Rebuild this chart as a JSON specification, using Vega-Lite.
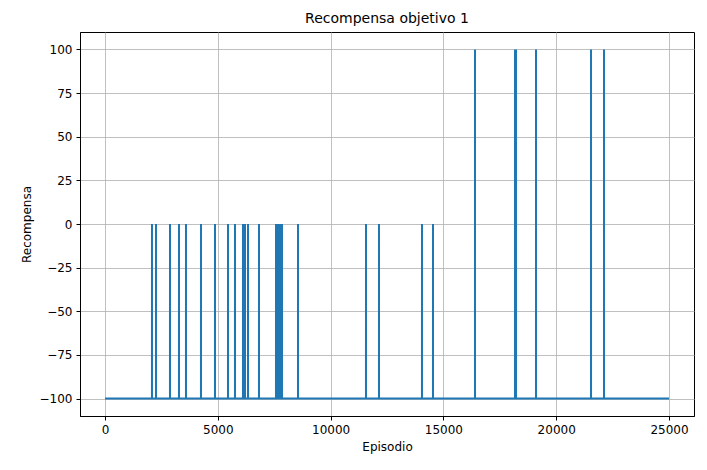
{
  "$schema": "https://vega.github.io/schema/vega-lite/v6.json",
  "width": 614,
  "height": 384,
  "autosize": "none",
  "padding": {"left": 80, "top": 32, "right": 13, "bottom": 54},
  "title": {"text": "Recompensa objetivo 1", "font": "DejaVu Sans", "fontSize": 14, "fontWeight": "normal", "color": "black", "offset": 6},
  "data": {"values": [
    {"x": 0, "y": -100},
    {"x": 2082, "y": -100}, {"x": 2083, "y": 0}, {"x": 2084, "y": -100},
    {"x": 2260, "y": -100}, {"x": 2261, "y": 0}, {"x": 2262, "y": -100},
    {"x": 2880, "y": -100}, {"x": 2881, "y": 0}, {"x": 2882, "y": -100},
    {"x": 3279, "y": -100}, {"x": 3280, "y": 0}, {"x": 3281, "y": -100},
    {"x": 3589, "y": -100}, {"x": 3590, "y": 0}, {"x": 3591, "y": -100},
    {"x": 4254, "y": -100}, {"x": 4255, "y": 0}, {"x": 4256, "y": -100},
    {"x": 4875, "y": -100}, {"x": 4876, "y": 0}, {"x": 4877, "y": -100},
    {"x": 5451, "y": -100}, {"x": 5452, "y": 0}, {"x": 5453, "y": -100},
    {"x": 5761, "y": -100}, {"x": 5762, "y": 0}, {"x": 5763, "y": -100},
    {"x": 6116, "y": -100}, {"x": 6117, "y": 0}, {"x": 6118, "y": -100},
    {"x": 6205, "y": -100}, {"x": 6206, "y": 0}, {"x": 6207, "y": -100},
    {"x": 6338, "y": -100}, {"x": 6339, "y": 0}, {"x": 6340, "y": -100},
    {"x": 6825, "y": -100}, {"x": 6826, "y": 0}, {"x": 6827, "y": -100},
    {"x": 7579, "y": -100}, {"x": 7580, "y": 0}, {"x": 7581, "y": -100},
    {"x": 7667, "y": -100}, {"x": 7668, "y": 0}, {"x": 7669, "y": -100},
    {"x": 7756, "y": -100}, {"x": 7757, "y": 0}, {"x": 7758, "y": -100},
    {"x": 7845, "y": -100}, {"x": 7846, "y": 0}, {"x": 7847, "y": -100},
    {"x": 8554, "y": -100}, {"x": 8555, "y": 0}, {"x": 8556, "y": -100},
    {"x": 11568, "y": -100}, {"x": 11569, "y": 0}, {"x": 11570, "y": -100},
    {"x": 12144, "y": -100}, {"x": 12145, "y": 0}, {"x": 12146, "y": -100},
    {"x": 14050, "y": -100}, {"x": 14051, "y": 0}, {"x": 14052, "y": -100},
    {"x": 14538, "y": -100}, {"x": 14539, "y": 0}, {"x": 14540, "y": -100},
    {"x": 16400, "y": -100}, {"x": 16401, "y": 100}, {"x": 16402, "y": -100},
    {"x": 18173, "y": -100}, {"x": 18174, "y": 100}, {"x": 18175, "y": -100},
    {"x": 18217, "y": -100}, {"x": 18218, "y": 100}, {"x": 18219, "y": -100},
    {"x": 19104, "y": -100}, {"x": 19105, "y": 100}, {"x": 19106, "y": -100},
    {"x": 21542, "y": -100}, {"x": 21543, "y": 100}, {"x": 21544, "y": -100},
    {"x": 22118, "y": -100}, {"x": 22119, "y": 100}, {"x": 22120, "y": -100},
    {"x": 25000, "y": -100}
  ]},
  "mark": {"type": "line", "color": "#1f77b4", "strokeWidth": 2, "clip": true},
  "encoding": {
    "x": {"field": "x", "type": "quantitative", "title": "Episodio",
      "scale": {"domain": [-1108, 26108], "nice": false, "zero": false},
      "axis": {"values": [0, 5000, 10000, 15000, 20000, 25000], "format": "d"}},
    "y": {"field": "y", "type": "quantitative", "title": "Recompensa",
      "scale": {"domain": [-110, 110], "nice": false},
      "axis": {"values": [-100, -75, -50, -25, 0, 25, 50, 75, 100]}}
  },
  "config": {
    "font": "DejaVu Sans",
    "view": {"stroke": "black", "strokeWidth": 1},
    "axis": {
      "grid": true, "gridColor": "#b0b0b0", "gridWidth": 0.8, "gridOpacity": 1,
      "domainColor": "black", "tickColor": "black", "tickSize": 4,
      "labelFont": "DejaVu Sans", "labelFontSize": 12, "labelColor": "black",
      "titleFont": "DejaVu Sans", "titleFontSize": 12, "titleFontWeight": "normal", "titleColor": "black",
      "labelPadding": 4, "titlePadding": 6
    }
  }
}
